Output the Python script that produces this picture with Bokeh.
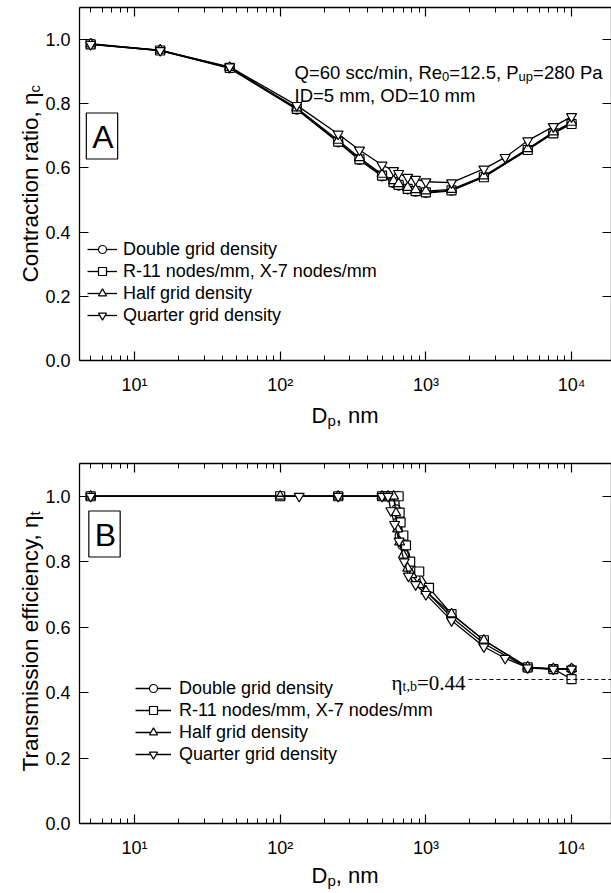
import math
from bokeh.plotting import figure
from bokeh.models import (Range1d, LogAxis, LinearAxis, FixedTicker, Label,
                          Legend, LegendItem)
from bokeh.layouts import column
from bokeh.embed import file_html
from bokeh.resources import INLINE

# ---------------- data ----------------
# Panel A: contraction ratio vs particle diameter
xA = [5, 15, 45, 130, 250, 350, 500, 600, 650, 750, 850, 1000, 1500, 2500, 5000, 7500, 10000]
yA_double = [0.987, 0.966, 0.910, 0.782, 0.680, 0.625, 0.574, 0.553, 0.545, 0.533, 0.526, 0.522, 0.529, 0.572, 0.658, 0.710, 0.740]
yA_r11 = [0.985, 0.966, 0.912, 0.784, 0.682, 0.627, 0.576, 0.556, 0.547, 0.535, 0.528, 0.524, 0.530, 0.571, 0.656, 0.708, 0.737]
yA_half = [0.986, 0.967, 0.913, 0.787, 0.686, 0.632, 0.580, 0.560, 0.551, 0.539, 0.532, 0.528, 0.533, 0.575, 0.660, 0.712, 0.742]
xA_quarter = [5, 15, 45, 130, 250, 350, 500, 600, 650, 750, 850, 1000, 1500, 2500, 3500, 5000, 7500, 10000]
yA_quarter = [0.985, 0.966, 0.915, 0.795, 0.706, 0.656, 0.609, 0.592, 0.583, 0.571, 0.565, 0.557, 0.554, 0.597, 0.633, 0.685, 0.729, 0.760]

# Panel B: transmission efficiency vs particle diameter
xB_double = [5, 100, 250, 500, 550, 600, 625, 640, 660, 690, 720, 770, 850, 1000, 1500, 2500, 5000, 7500, 10000]
yB_double = [1, 1, 1, 1, 1, 1, 0.96, 0.92, 0.88, 0.85, 0.82, 0.79, 0.75, 0.71, 0.63, 0.55, 0.475, 0.472, 0.472]
xB_r11 = [5, 100, 250, 500, 550, 600, 650, 660, 670, 700, 730, 780, 900, 1050, 1500, 2500, 5000, 7500, 10000]
yB_r11 = [1, 1, 1, 1, 1, 1, 1, 0.95, 0.92, 0.88, 0.85, 0.80, 0.77, 0.72, 0.64, 0.56, 0.477, 0.472, 0.441]
xB_half = [5, 100, 250, 500, 550, 600, 620, 640, 660, 700, 750, 800, 900, 1000, 1500, 2500, 5000, 7500, 10000]
yB_half = [1, 1, 1, 1, 1, 1, 0.95, 0.90, 0.86, 0.82, 0.78, 0.76, 0.73, 0.71, 0.64, 0.56, 0.478, 0.473, 0.473]
xB_quarter = [5, 135, 250, 500, 550, 575, 610, 655, 710, 760, 850, 1000, 1500, 2500, 3500, 5000, 7500, 10000]
yB_quarter = [1, 1, 1, 1, 1, 0.956, 0.914, 0.863, 0.80, 0.756, 0.73, 0.70, 0.62, 0.54, 0.505, 0.476, 0.472, 0.472]

eta_tb = 0.44
eta_tb_x = [1960, 19000]

series_labels = ["Double grid density", "R-11 nodes/mm, X-7 nodes/mm",
                 "Half grid density", "Quarter grid density"]
markers = ["circle", "square", "triangle", "inverted_triangle"]

x_major = [10, 100, 1000, 10000]
x_tick_labels = ["10\u00b9", "10\u00b2", "10\u00b3", "10\u2074"]
y_major = [0.0, 0.2, 0.4, 0.6, 0.8, 1.0]
y_tick_labels = ["0.0", "0.2", "0.4", "0.6", "0.8", "1.0"]

# ---------------- layout constants ----------------
FONT = "Liberation Sans"
SERIF = "Liberation Serif"
W = 611
x_start, x_end = 4.19, 18800.0
y_start, y_end = 0.0, 1.1
FL, FR = 79, 611          # plot box left/right in pixels
lx0, lx1 = math.log10(x_start), math.log10(x_end)
x_minor = [m * 10 ** k for k in range(0, 5) for m in range(2, 10)
           if x_start <= m * 10 ** k <= x_end]


def px2x(px):
    return 10 ** (lx0 + (px - FL) / (FR - FL) * (lx1 - lx0))


def make_panel(H, T, B):
    def py2y(py):
        return y_end - (py - T) / (B - T) * (y_end - y_start)

    p = figure(width=W, height=H, x_axis_type="log",
               x_axis_location=None, y_axis_location=None,
               x_range=Range1d(px2x(0), px2x(W)),
               y_range=Range1d(py2y(H), py2y(0)),
               output_backend="svg", toolbar_location=None, min_border=0)
    for g in p.grid:
        g.visible = False
    p.outline_line_color = None
    p.background_fill_color = "white"
    p.border_fill_color = "white"

    bottom = LogAxis(ticker=FixedTicker(ticks=x_major, minor_ticks=x_minor),
                     fixed_location=y_start, bounds=(x_start, x_end))
    top = LogAxis(ticker=FixedTicker(ticks=x_major, minor_ticks=x_minor),
                  fixed_location=y_end, bounds=(x_start, x_end))
    left = LinearAxis(ticker=FixedTicker(ticks=y_major),
                      fixed_location=x_start, bounds=(y_start, y_end))
    right = LinearAxis(ticker=FixedTicker(ticks=y_major),
                       fixed_location=x_end, bounds=(y_start, y_end))
    bottom.major_label_overrides = dict(zip(x_major, x_tick_labels))
    left.major_label_overrides = dict(zip(y_major, y_tick_labels))
    top.major_label_overrides = {t: "\u200b" for t in x_major}
    right.major_label_overrides = {t: "\u200b" for t in y_major}
    for ax in (bottom, top, left, right):
        ax.major_tick_in = 9
        ax.major_tick_out = 0
        ax.minor_tick_in = 5
        ax.minor_tick_out = 0
        ax.axis_line_width = 1.3
        ax.axis_line_color = "black"
        ax.major_tick_line_width = 1.2
        ax.minor_tick_line_width = 1.0
        ax.major_label_text_font = FONT
        ax.major_label_text_font_size = "18px"
        ax.major_label_text_color = "black"
    bottom.major_label_standoff = 14
    left.major_label_standoff = 9
    for ax in (top, right):
        ax.major_label_text_font_size = "1px"
        ax.major_label_text_alpha = 0
        ax.major_label_standoff = 0
    p.add_layout(bottom, "below")
    p.add_layout(top, "above")
    p.add_layout(left, "left")
    p.add_layout(right, "right")
    return p, py2y


def add_text(p, py2y, px, py, text, size, font=FONT, align="left",
             baseline="alphabetic", angle=0.0):
    p.add_layout(Label(x=px2x(px), y=py2y(py), text=text, text_font=font,
                       text_font_size=f"{size}px", text_align=align,
                       text_baseline=baseline, angle=angle, text_color="black"))


def add_box(p, py2y, px, py, text):
    p.add_layout(Label(x=px2x(px), y=py2y(py), text=text, text_font=FONT,
                       text_font_size="32px", text_align="center",
                       text_baseline="middle", padding=(6, 4, 6, 4),
                       text_color="black",
                       border_line_color="black", border_line_width=1.2,
                       background_fill_color="white"))


def draw_series(p, xs_list, ys_list):
    items = []
    for xs, ys, mk, lab in zip(xs_list, ys_list, markers, series_labels):
        rl = p.line(xs, ys, line_color="black", line_width=1.3)
        size = 9 if mk in ("circle", "square") else 10
        rs = p.scatter(xs, ys, marker=mk, size=size, fill_color="white",
                       line_color="black", line_width=1.2)
        items.append(LegendItem(label=lab, renderers=[rl, rs]))
    return items


def style_legend(leg, gw, standoff):
    leg.label_text_font = FONT
    leg.label_text_font_size = "18px"
    leg.label_text_color = "black"
    leg.glyph_width = gw
    leg.glyph_height = 20
    leg.label_height = 22
    leg.spacing = 0
    leg.padding = 0
    leg.margin = 0
    leg.label_standoff = standoff
    leg.border_line_color = None
    leg.background_fill_alpha = 0


# ---------------- Panel A ----------------
HA, TA, BA = 440, 7, 360
pA, yA_px = make_panel(HA, TA, BA)
itemsA = draw_series(pA, [xA, xA, xA, xA_quarter], [yA_double, yA_r11, yA_half, yA_quarter])
legA = Legend(items=itemsA, location=(87, HA - 326))
style_legend(legA, 30, 6)
pA.add_layout(legA)

add_box(pA, yA_px, 101.5, 135.5, "A")
add_text(pA, yA_px, 294, 71.5, "Q=60 scc/min, Re", 18.5)
add_text(pA, yA_px, 441.5, 75.5, "0", 13)
add_text(pA, yA_px, 448.7, 71.5, "=12.5, P", 18.5)
add_text(pA, yA_px, 518.1, 75.5, "up", 13)
add_text(pA, yA_px, 532.6, 71.5, "=280 Pa", 18.5)
add_text(pA, yA_px, 294, 94.5, "ID=5 mm, OD=10 mm", 18.5)
add_text(pA, yA_px, 30, 92, "Contraction ratio, \u03b7", 22.5, align="right", angle=math.pi / 2)
add_text(pA, yA_px, 34, 92, "c", 15, align="left", angle=math.pi / 2)
add_text(pA, yA_px, 311, 415, "D", 22)
add_text(pA, yA_px, 326.9, 420, "p", 15)
add_text(pA, yA_px, 335.2, 415, ", nm", 22)

# ---------------- Panel B ----------------
off = HA
HB = 893 - HA
TB, BB = 463 - off, 823 - off
pB, yB_px = make_panel(HB, TB, BB)
itemsB = draw_series(pB, [xB_double, xB_r11, xB_half, xB_quarter],
                     [yB_double, yB_r11, yB_half, yB_quarter])
legB = Legend(items=itemsB, location=(135, HB - (765 - off)))
style_legend(legB, 36, 8)
pB.add_layout(legB)

pB.line(eta_tb_x, [eta_tb, eta_tb], line_color="black", line_width=1.2, line_dash="4 3")

add_box(pB, yB_px, 104, 533.5 - off, "B")
add_text(pB, yB_px, 465, 682 - off, "=0.44", 21, font=SERIF, align="right")
add_text(pB, yB_px, 416.4, 686 - off, "t,b", 14, font=SERIF, align="right")
add_text(pB, yB_px, 402, 682 - off, "\u03b7", 21, font=SERIF, align="right")
add_text(pB, yB_px, 30, 515 - off, "Transmission efficiency, \u03b7", 22.5, align="right", angle=math.pi / 2)
add_text(pB, yB_px, 34, 515 - off, "t", 15, align="left", angle=math.pi / 2)
add_text(pB, yB_px, 311, 875 - off, "D", 22)
add_text(pB, yB_px, 326.9, 880 - off, "p", 15)
add_text(pB, yB_px, 335.2, 875 - off, ", nm", 22)

layout = column(pA, pB)
open("out.html", "w").write(file_html(layout, INLINE))
